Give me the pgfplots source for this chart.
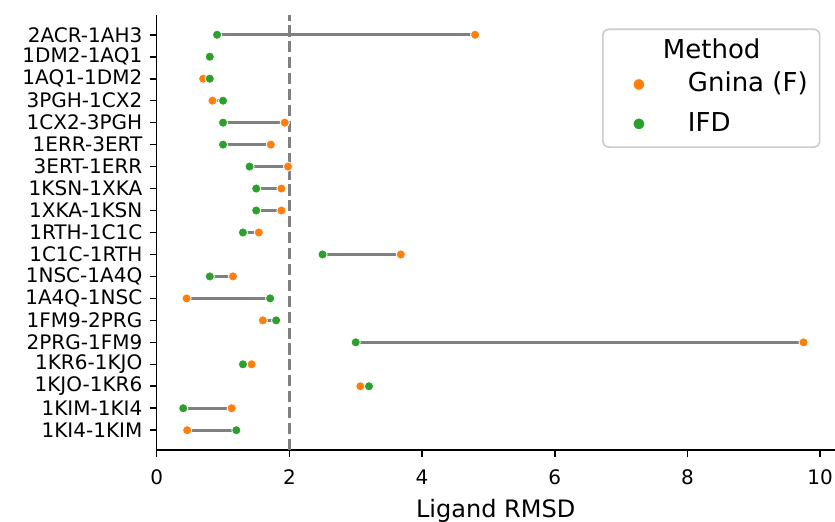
\documentclass[border=0pt]{standalone}
\usepackage{pgfplots}
\pgfplotsset{compat=1.18}
\usepackage{pgfplotstable}
\usepackage{fontspec}
\setmainfont{DejaVu Sans}

\definecolor{gninaorange}{RGB}{255,127,14}
\definecolor{ifdgreen}{RGB}{44,160,44}
\definecolor{linkgray}{RGB}{128,128,128}
\definecolor{framegray}{RGB}{204,204,204}

% Ligand RMSD per complex; y is the row position (top row = 18)
\pgfplotstableread{
y  gnina ifd
18 4.80 0.91
17 0.80 0.80
16 0.70 0.80
15 0.84 1.00
14 1.93 1.00
13 1.72 1.00
12 1.98 1.40
11 1.88 1.50
10 1.88 1.50
9  1.54 1.30
8  3.68 2.50
7  1.15 0.80
6  0.45 1.71
5  1.60 1.80
4  9.75 3.00
3  1.43 1.30
2  3.07 3.20
1  1.13 0.40
0  0.46 1.20
}\rmsd

\pgfplotsset{
  dotlegend/.style={
    legend image code/.code={
      \path[draw=none] (0pt,0pt) -- (32.5pt,0pt);
      \draw[##1, only marks, mark size=2.9pt] plot coordinates {(12pt,3.6pt)};
    }
  }
}

\begin{document}
\begin{tikzpicture}
\begin{axis}[
  at={(78.35pt,36pt)}, anchor=south west,
  scale only axis,
  width=339pt, height=217.5pt,
  xmin=0, xmax=10.22,
  ymin=-0.9, ymax=18.9,
  axis lines=left,
  axis line style={-, line width=0.8pt},
  tick align=outside,
  major tick length=3.5pt,
  tick style={black, line width=0.8pt},
  xtick={0,2,4,6,8,10},
  ytick={0,1,...,18},
  yticklabels={1KI4-1KIM,1KIM-1KI4,1KJO-1KR6,1KR6-1KJO,2PRG-1FM9,1FM9-2PRG,1A4Q-1NSC,1NSC-1A4Q,1C1C-1RTH,1RTH-1C1C,1XKA-1KSN,1KSN-1XKA,3ERT-1ERR,1ERR-3ERT,1CX2-3PGH,3PGH-1CX2,1AQ1-1DM2,1DM2-1AQ1,2ACR-1AH3},
  /pgf/number format/assume math mode=true,
  ticklabel style={font=\fontsize{10}{12}\selectfont},
  yticklabel style={anchor=east, inner sep=0pt, xshift=-3.5pt},
  xticklabel style={anchor=base, inner sep=0pt, yshift=-14pt},
  xlabel={Ligand RMSD},
  xlabel style={font=\fontsize{12}{14}\selectfont, at={(axis description cs:0.5,0)}, anchor=base, yshift=-33.75pt},
  clip=false,
  legend style={
    at={(0.979,0.969)}, anchor=north east,
    draw=framegray, line width=0.8pt, rounded corners=3pt,
    font=\fontsize{13}{15.6}\selectfont,
    inner xsep=6pt, inner ysep=5pt,
    row sep=7.2pt, column sep=4pt,
    nodes={inner sep=0pt, text height=9.5pt, text depth=3pt, anchor=base west},
  },
  legend cell align=left,
]
\addlegendimage{empty legend}
\addlegendentry[text height=9.5pt, text depth=0pt]{\hspace*{-12.5pt}Method}

% reference threshold at 2 Å
\addplot[forget plot, linkgray, line width=1.5pt, dash pattern=on 5.55pt off 2.4pt]
  coordinates {(2,-0.9) (2,18.9)};

% segments joining the two methods for each complex
\addplot[forget plot, linkgray, line width=1.4pt, -,
  quiver={u=\thisrow{ifd}-\thisrow{gnina}, v=0}]
  table[x=gnina, y=y] {\rmsd};

\addplot[only marks, mark=*, mark size=2.3pt,
  mark options={fill=gninaorange, draw=white, line width=0.4pt}, dotlegend]
  table[x=gnina, y=y] {\rmsd};
\addlegendentry{Gnina (F)}

\addplot[only marks, mark=*, mark size=2.3pt,
  mark options={fill=ifdgreen, draw=white, line width=0.4pt}, dotlegend]
  table[x=ifd, y=y] {\rmsd};
\addlegendentry{IFD}
\end{axis}
\pgfresetboundingbox
\path[use as bounding box] (0,0) rectangle (417.5pt,261pt);
\end{tikzpicture}
\end{document}
